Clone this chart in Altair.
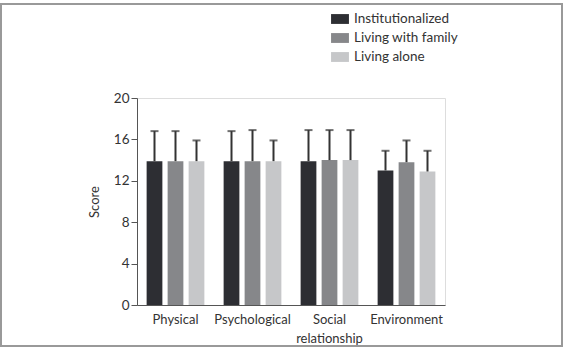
import altair as alt
import pandas as pd

domains = ["Physical", "Psychological", "Social relationship", "Environment"]
groups = ["Institutionalized", "Living with family", "Living alone"]
colors = ["#2d2e33", "#86878a", "#c6c7c9"]

inst_mean = [13.9, 13.9, 13.9, 13.0]
inst_upper = [16.8, 16.8, 16.9, 14.9]
fam_mean = [13.9, 13.9, 14.0, 13.8]
fam_upper = [16.8, 16.9, 16.9, 15.9]
alone_mean = [13.9, 13.9, 14.0, 12.9]
alone_upper = [15.9, 15.9, 16.9, 14.9]

y_ticks = [0, 4, 8, 12, 16, 20]

rows = []
for g, means, uppers in zip(groups, [inst_mean, fam_mean, alone_mean],
                            [inst_upper, fam_upper, alone_upper]):
    for d, m, u in zip(domains, means, uppers):
        rows.append({"domain": d, "group": g, "mean": m, "upper": u})
df = pd.DataFrame(rows)

FONT = "Lato"

x = alt.X("domain:N", sort=domains, title=None,
          scale=alt.Scale(paddingInner=0.25, paddingOuter=0.125),
          axis=alt.Axis(labelAngle=0, ticks=False, labelPadding=8,
                        labelFontSize=13, labelColor="#333", domainColor="#555",
                        labelExpr="datum.value == 'Social relationship' ? ['Social', 'relationship'] : datum.value",
                        labelLineHeight=19, labelBaseline="top"))
xoff = alt.XOffset("group:N", sort=groups, scale=alt.Scale(paddingInner=0.25))

base = alt.Chart(df)

bars = base.mark_bar().encode(
    x=x, xOffset=xoff,
    y=alt.Y("mean:Q", title="Score",
            scale=alt.Scale(domain=[0, 20], nice=False),
            axis=alt.Axis(values=y_ticks, grid=False, tickSize=6, labelPadding=2,
                          labelFontSize=13.5, labelColor="#333", domainColor="#555",
                          tickColor="#555", titleFontSize=13, titleFontWeight="normal",
                          titleColor="#333", titlePadding=12)),
    color=alt.Color("group:N", sort=groups,
                    scale=alt.Scale(domain=groups, range=colors),
                    legend=alt.Legend(title=None, orient="none", legendX=194, legendY=-88,
                                      symbolType="M-1,-0.55H1V0.55H-1Z", symbolSize=320,
                                      symbolStrokeWidth=0, labelFontSize=13.5,
                                      labelColor="#333", rowPadding=3, labelOffset=5,
                                      labelFont=FONT)),
)

rules = base.mark_rule(color="#333", strokeWidth=2).encode(
    x=alt.X("domain:N", sort=domains), xOffset=xoff,
    y="mean:Q", y2="upper:Q",
)
caps = base.mark_tick(color="#333", thickness=2, size=8, orient="horizontal").encode(
    x=alt.X("domain:N", sort=domains), xOffset=xoff,
    y="upper:Q",
)

frame = alt.Chart(pd.DataFrame({"a": [0]})).mark_rect(
    fill=None, stroke="#999", strokeWidth=2
).encode(x=alt.value(-136), x2=alt.value(425), y=alt.value(-94), y2=alt.value(248))

chart = alt.layer(frame, bars, rules, caps).properties(
    width=308, height=207,
    autosize=alt.AutoSizeParams(type="none"),
    padding={"left": 137, "top": 98, "right": 122, "bottom": 51},
).configure_view(stroke=None).configure(font=FONT, background="white")

chart.save("out.html", embed_options={"renderer": "svg", "actions": False})
